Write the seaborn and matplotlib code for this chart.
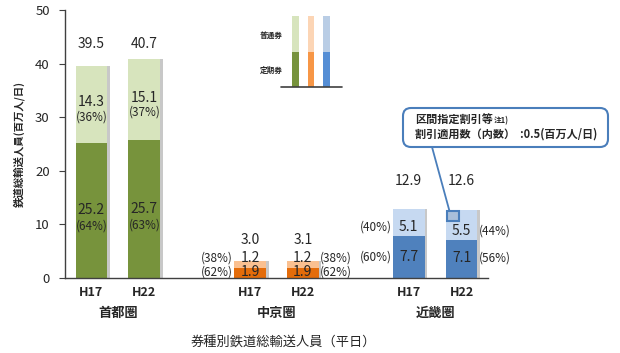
import numpy as np
import pandas as pd
import matplotlib
matplotlib.use("Agg")
import matplotlib.pyplot as plt
import seaborn as sns
from matplotlib.patches import FancyBboxPatch, Rectangle

# data (million passengers / day, weekday)
REGIONS = ['首都圏', '中京圏', '近畿圏']
YEARS = ['H17', 'H22']
TEIKI = [25.2, 25.7, 1.9, 1.9, 7.7, 7.1]        # commuter passes
FUTSU = [14.3, 15.1, 1.2, 1.2, 5.1, 5.5]        # ordinary tickets
TOTALS = [39.5, 40.7, 3.0, 3.1, 12.9, 12.6]
TEIKI_PCT = [64, 63, 62, 62, 60, 56]
FUTSU_PCT = [36, 37, 38, 38, 40, 44]
DISCOUNT = 0.5

DARK = ['#77933C', '#77933C', '#E46C0A', '#E46C0A', '#4F81BD', '#4F81BD']
LIGHT = ['#D7E4BD', '#D7E4BD', '#FAC090', '#FAC090', '#C6D9F1', '#C6D9F1']
LEG_DARK = ['#77933C', '#F79646', '#558ED5']
LEG_LIGHT = ['#D7E4BD', '#FCD5B5', '#B9CDE5']
BOX_BLUE = '#4A7EBB'

# layout constants
TOTAL_LABEL_Y = [43.7, 7.1, 18.1]
BAR_W = 0.6

sns.set_theme(style='white')
plt.rcParams['font.family'] = ['Noto Sans CJK JP', 'DejaVu Sans']

df = pd.DataFrame({
    'region': np.repeat(REGIONS, 2),
    'year': YEARS * 3,
    'teiki': TEIKI,
    'futsu': FUTSU,
    'total': TOTALS,
    'teiki_pct': TEIKI_PCT,
    'futsu_pct': FUTSU_PCT,
})
df['g'] = np.repeat(np.arange(3), 2)
df['j'] = [0, 1] * 3
df['pos'] = df['g'] * 3 + df['j']
df['stack'] = df['teiki'] + df['futsu']
df['bar'] = df['region'] + df['year']

fig = plt.figure(figsize=(6.2, 3.53), dpi=100)
ax = fig.add_axes([65 / 620, 1 - 277.7 / 353, 423 / 620, 267.7 / 353])

# soft shadow on the right of each bar
sns.barplot(x=df['pos'] + 0.05, y=df['stack'], color='#C8C8C8', native_scale=True,
            width=BAR_W, saturation=1, errorbar=None, linewidth=0, ax=ax)
sns.barplot(data=df, x='pos', y='stack', hue='bar', palette=LIGHT, native_scale=True,
            width=BAR_W, dodge=False, saturation=1, errorbar=None, legend=False,
            linewidth=0, ax=ax)
sns.barplot(data=df, x='pos', y='teiki', hue='bar', palette=DARK, native_scale=True,
            width=BAR_W, dodge=False, saturation=1, errorbar=None, legend=False,
            linewidth=0, ax=ax)

ax.set_xlim(-0.5, 7.5)
ax.set_ylim(0, 50)
ax.set_yticks(range(0, 51, 10))
ax.set_xticks(df['pos'])
ax.set_xticklabels(df['year'], fontsize=9, fontweight='bold')
ax.tick_params(axis='x', length=0, pad=6)
ax.tick_params(axis='y', left=True, length=4, width=0.8, color='#404040',
               direction='out', labelsize=9.5, pad=7)
ax.set_xlabel('')
ax.set_ylabel('鉄道総輸送人員(百万人/日)', fontsize=7.5, fontweight='bold')
ax.yaxis.set_label_coords(-0.095, 0.5)
sns.despine(ax=ax)
for s in ['left', 'bottom']:
    ax.spines[s].set_color('#404040')
    ax.spines[s].set_linewidth(1.0)

# value labels
for _, r in df.iterrows():
    x = r['pos']
    if r['g'] == 0:
        m = r['teiki'] + r['futsu'] / 2
        ax.text(x, m + 0.4, f"{r['futsu']:.1f}", ha='center', va='center', fontsize=10)
        ax.text(x, m - 2.3, f"({r['futsu_pct']}%)", ha='center', va='center', fontsize=8.5)
        m = r['teiki'] / 2
        ax.text(x, m, f"{r['teiki']:.1f}", ha='center', va='center', fontsize=10)
        ax.text(x, m - 3.0, f"({r['teiki_pct']}%)", ha='center', va='center', fontsize=8.5)
    else:
        side = -1 if r['j'] == 0 else 1
        px = x + side * (BAR_W / 2 + 0.02)
        ha = 'right' if side < 0 else 'left'
        ly = r['teiki'] + 1.7
        dy = r['teiki'] / 2 + 0.1
        ax.text(x, ly, f"{r['futsu']:.1f}", ha='center', va='center', fontsize=10)
        ax.text(x, dy, f"{r['teiki']:.1f}", ha='center', va='center', fontsize=10)
        ax.text(px, ly, f"({r['futsu_pct']}%)", ha=ha, va='center', fontsize=8.5)
        ax.text(px, dy, f"({r['teiki_pct']}%)", ha=ha, va='center', fontsize=8.5)
    ax.text(x, TOTAL_LABEL_Y[r['g']], f"{r['total']:.1f}", ha='center', va='center',
            fontsize=10)

# region names under the year labels
for g, name in enumerate(REGIONS):
    ax.text(3 * g + 0.5, -0.132, name, transform=ax.get_xaxis_transform(),
            ha='center', va='center', fontsize=9.5, fontweight='bold')

fig.text(283 / 620, 1 - 342 / 353, '券種別鉄道総輸送人員（平日）', ha='center', va='center',
         fontsize=9.5)

# discount marker inside 近畿圏 H22 bar
last = df.iloc[-1]
rx = last['pos'] - BAR_W / 2 + 0.03
rtop = last['stack'] - 0.1
rect = Rectangle((rx, rtop - 2.0), 0.22, 2.0, facecolor='#A9BFDA', edgecolor=BOX_BLUE,
                 lw=1.5, zorder=5)
ax.add_patch(rect)

# callout box
box = FancyBboxPatch((4.03, 2.06), 2.05, 0.39, boxstyle='round,pad=0,rounding_size=0.08',
                     transform=fig.dpi_scale_trans, facecolor='white', edgecolor=BOX_BLUE,
                     lw=1.5)
fig.add_artist(box)
fig.text(415 / 620, 1 - 120 / 353, '区間指定割引等', ha='left', va='center', fontsize=8,
         fontweight='bold')
fig.text(494 / 620, 1 - 121 / 353, '注1)', ha='left', va='center', fontsize=5.5,
         fontweight='bold')
fig.text(415 / 620, 1 - 134 / 353, f'割引適用数（内数）  :{DISCOUNT}(百万人/日)', ha='left',
         va='center', fontsize=8, fontweight='bold')
ax.annotate('', xy=(rx + 0.04, rtop), xycoords='data', xytext=(432, 353 - 147),
            textcoords='figure pixels',
            arrowprops=dict(arrowstyle='-', color=BOX_BLUE, lw=1.3, shrinkA=0, shrinkB=0))

# small colour key
lax = fig.add_axes([281 / 620, 1 - 87 / 353, 61 / 620, 71 / 353])
key = pd.DataFrame({'k': ['a', 'b', 'c'], 'light': [2, 2, 2], 'dark': [1, 1, 1]})
sns.barplot(data=key, x='k', y='light', hue='k', palette=LEG_LIGHT, width=0.45,
            saturation=1, legend=False, linewidth=0, ax=lax)
sns.barplot(data=key, x='k', y='dark', hue='k', palette=LEG_DARK, width=0.45,
            saturation=1, legend=False, linewidth=0, ax=lax)
lax.set_xlim(-0.935, 3.0)
lax.set_ylim(0, 2)
lax.set_axis_off()
lax.axhline(0, color='#404040', lw=1.2, clip_on=False)
fig.text(283 / 620, 1 - 35 / 353, '普通券', ha='right', va='center', fontsize=5.5,
         fontweight='bold')
fig.text(283 / 620, 1 - 70 / 353, '定期券', ha='right', va='center', fontsize=5.5,
         fontweight='bold')

fig.savefig('out.png', dpi=100)
